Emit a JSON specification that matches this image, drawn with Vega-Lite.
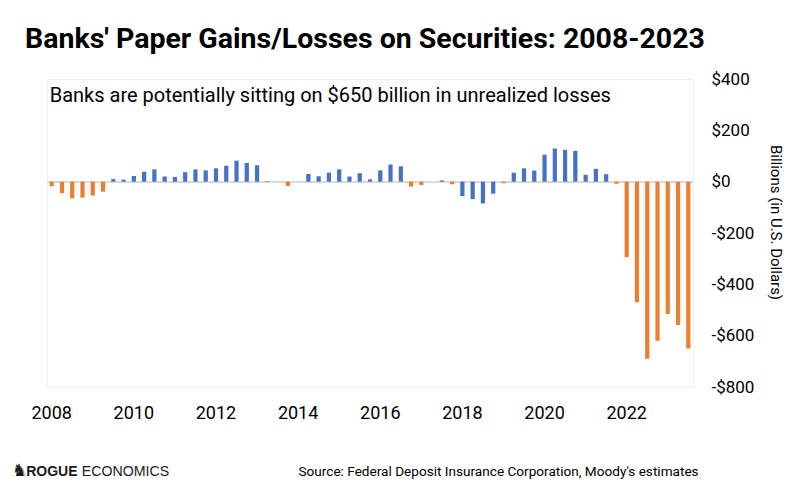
{
  "$schema": "https://vega.github.io/schema/vega-lite/v6.json",
  "width": 646,
  "height": 308,
  "autosize": {"type": "none"},
  "padding": {"left": 47, "top": 79, "right": 101, "bottom": 105},
  "background": "white",
  "config": {
    "view": {"stroke": "#efefef", "strokeWidth": 1},
    "font": "Roboto"
  },
  "title": {
    "text": "Banks' Paper Gains/Losses on Securities: 2008-2023",
    "anchor": "start",
    "frame": "group",
    "dx": -22,
    "offset": 17,
    "font": "Roboto",
    "fontWeight": "bold",
    "fontSize": 28.5,
    "color": "#000000"
  },
  "data": {
    "values": [
      {"q": "2008 Q1", "v": -18, "s": "Series 2"},
      {"q": "2008 Q2", "v": -45, "s": "Series 2"},
      {"q": "2008 Q3", "v": -65, "s": "Series 2"},
      {"q": "2008 Q4", "v": -62, "s": "Series 2"},
      {"q": "2009 Q1", "v": -54, "s": "Series 2"},
      {"q": "2009 Q2", "v": -39, "s": "Series 2"},
      {"q": "2009 Q3", "v": 10, "s": "Series 1"},
      {"q": "2009 Q4", "v": 8, "s": "Series 1"},
      {"q": "2010 Q1", "v": 22, "s": "Series 1"},
      {"q": "2010 Q2", "v": 39, "s": "Series 1"},
      {"q": "2010 Q3", "v": 48, "s": "Series 1"},
      {"q": "2010 Q4", "v": 20, "s": "Series 1"},
      {"q": "2011 Q1", "v": 18, "s": "Series 1"},
      {"q": "2011 Q2", "v": 37, "s": "Series 1"},
      {"q": "2011 Q3", "v": 48, "s": "Series 1"},
      {"q": "2011 Q4", "v": 44, "s": "Series 1"},
      {"q": "2012 Q1", "v": 52, "s": "Series 1"},
      {"q": "2012 Q2", "v": 62, "s": "Series 1"},
      {"q": "2012 Q3", "v": 82, "s": "Series 1"},
      {"q": "2012 Q4", "v": 73, "s": "Series 1"},
      {"q": "2013 Q1", "v": 64, "s": "Series 1"},
      {"q": "2013 Q2", "v": 2, "s": "Series 1"},
      {"q": "2013 Q3", "v": 0, "s": "Series 1"},
      {"q": "2013 Q4", "v": -17, "s": "Series 2"},
      {"q": "2014 Q1", "v": 0, "s": "Series 1"},
      {"q": "2014 Q2", "v": 30, "s": "Series 1"},
      {"q": "2014 Q3", "v": 21, "s": "Series 1"},
      {"q": "2014 Q4", "v": 35, "s": "Series 1"},
      {"q": "2015 Q1", "v": 48, "s": "Series 1"},
      {"q": "2015 Q2", "v": 20, "s": "Series 1"},
      {"q": "2015 Q3", "v": 33, "s": "Series 1"},
      {"q": "2015 Q4", "v": 9, "s": "Series 1"},
      {"q": "2016 Q1", "v": 44, "s": "Series 1"},
      {"q": "2016 Q2", "v": 67, "s": "Series 1"},
      {"q": "2016 Q3", "v": 60, "s": "Series 1"},
      {"q": "2016 Q4", "v": -19, "s": "Series 2"},
      {"q": "2017 Q1", "v": -13, "s": "Series 2"},
      {"q": "2017 Q2", "v": 0, "s": "Series 1"},
      {"q": "2017 Q3", "v": 5, "s": "Series 1"},
      {"q": "2017 Q4", "v": -10, "s": "Series 2"},
      {"q": "2018 Q1", "v": -56, "s": "Series 1"},
      {"q": "2018 Q2", "v": -68, "s": "Series 1"},
      {"q": "2018 Q3", "v": -85, "s": "Series 1"},
      {"q": "2018 Q4", "v": -47, "s": "Series 1"},
      {"q": "2019 Q1", "v": -6, "s": "Series 2"},
      {"q": "2019 Q2", "v": 35, "s": "Series 1"},
      {"q": "2019 Q3", "v": 52, "s": "Series 1"},
      {"q": "2019 Q4", "v": 43, "s": "Series 1"},
      {"q": "2020 Q1", "v": 105, "s": "Series 1"},
      {"q": "2020 Q2", "v": 129, "s": "Series 1"},
      {"q": "2020 Q3", "v": 124, "s": "Series 1"},
      {"q": "2020 Q4", "v": 120, "s": "Series 1"},
      {"q": "2021 Q1", "v": 27, "s": "Series 1"},
      {"q": "2021 Q2", "v": 50, "s": "Series 1"},
      {"q": "2021 Q3", "v": 29, "s": "Series 1"},
      {"q": "2021 Q4", "v": -8, "s": "Series 2"},
      {"q": "2022 Q1", "v": -294, "s": "Series 2"},
      {"q": "2022 Q2", "v": -470, "s": "Series 2"},
      {"q": "2022 Q3", "v": -690, "s": "Series 2"},
      {"q": "2022 Q4", "v": -620, "s": "Series 2"},
      {"q": "2023 Q1", "v": -516, "s": "Series 2"},
      {"q": "2023 Q2", "v": -558, "s": "Series 2"},
      {"q": "2023 Q3", "v": -650, "s": "Series 2"}
    ]
  },
  "layer": [
    {
      "mark": {"type": "rule", "color": "#d9d9d9", "strokeWidth": 1.5},
      "encoding": {"y": {"datum": 0}}
    },
    {
      "mark": {"type": "bar"},
      "encoding": {
        "x": {
          "field": "q",
          "type": "ordinal",
          "scale": {"paddingInner": 0.59, "paddingOuter": 0.253},
          "axis": {
            "orient": "bottom",
            "values": ["2008 Q1", "2010 Q1", "2012 Q1", "2014 Q1", "2016 Q1", "2018 Q1", "2020 Q1", "2022 Q1"],
            "labelExpr": "substring(datum.value, 0, 4)",
            "labelAngle": 0,
            "ticks": false,
            "domain": false,
            "grid": false,
            "labelPadding": 17,
            "labelFont": "Roboto",
            "labelFontSize": 18,
            "labelColor": "#000000",
            "title": "Source: Federal Deposit Insurance Corporation, Moody's estimates",
            "titleFont": "Roboto",
            "titleFontSize": 13.6,
            "titleFontWeight": "normal",
            "titleColor": "#000000",
            "titleX": 251,
            "titleY": 88,
            "titleAlign": "left",
            "titleAnchor": "start",
            "titleBaseline": "alphabetic"
          }
        },
        "y": {
          "field": "v",
          "type": "quantitative",
          "scale": {"domain": [-800, 400], "nice": false, "zero": false},
          "axis": {
            "orient": "right",
            "values": [-800, -600, -400, -200, 0, 200, 400],
            "labelExpr": "datum.value < 0 ? '-$' + format(-datum.value, 'd') : '$' + format(datum.value, 'd')",
            "ticks": false,
            "domain": false,
            "grid": false,
            "labelPadding": 18,
            "labelFont": "Roboto",
            "labelFontSize": 17,
            "labelColor": "#000000",
            "title": "Billions (in U.S. Dollars)",
            "titleFont": "Roboto",
            "titleFontSize": 15,
            "titleFontWeight": "normal",
            "titleColor": "#000000",
            "titleAngle": 90,
            "titleBaseline": "middle",
            "titleX": 82,
            "titleY": 143
          }
        },
        "color": {
          "field": "s",
          "type": "nominal",
          "scale": {"domain": ["Series 1", "Series 2"], "range": ["#4472C4", "#ED7D31"]},
          "legend": null
        }
      }
    },
    {
      "data": {"values": [{}]},
      "mark": {"type": "text", "align": "left", "baseline": "alphabetic", "font": "Roboto", "fontSize": 20, "color": "#000000", "dx": -2},
      "encoding": {
        "x": {"datum": "2008 Q1", "type": "ordinal"},
        "y": {"datum": 312, "type": "quantitative"},
        "text": {"value": "Banks are potentially sitting on $650 billion in unrealized losses"}
      }
    },
    {
      "data": {"values": [{}]},
      "mark": {"type": "text", "align": "left", "baseline": "alphabetic", "font": "DejaVu Sans", "fontSize": 17, "color": "#1a1a1a", "dx": -40},
      "encoding": {
        "x": {"datum": "2008 Q1", "type": "ordinal"},
        "y": {"datum": -1148, "type": "quantitative"},
        "text": {"value": "♞"}
      }
    },
    {
      "data": {"values": [{}]},
      "mark": {"type": "text", "align": "left", "baseline": "alphabetic", "font": "Liberation Sans", "fontWeight": "bold", "fontSize": 14, "color": "#1a1a1a", "dx": -25.5},
      "encoding": {
        "x": {"datum": "2008 Q1", "type": "ordinal"},
        "y": {"datum": -1146, "type": "quantitative"},
        "text": {"value": "ROGUE"}
      }
    },
    {
      "data": {"values": [{}]},
      "mark": {"type": "text", "align": "left", "baseline": "alphabetic", "font": "Liberation Sans", "fontSize": 14.2, "color": "#1a1a1a", "dx": 30},
      "encoding": {
        "x": {"datum": "2008 Q1", "type": "ordinal"},
        "y": {"datum": -1146, "type": "quantitative"},
        "text": {"value": "ECONOMICS"}
      }
    }
  ]
}
